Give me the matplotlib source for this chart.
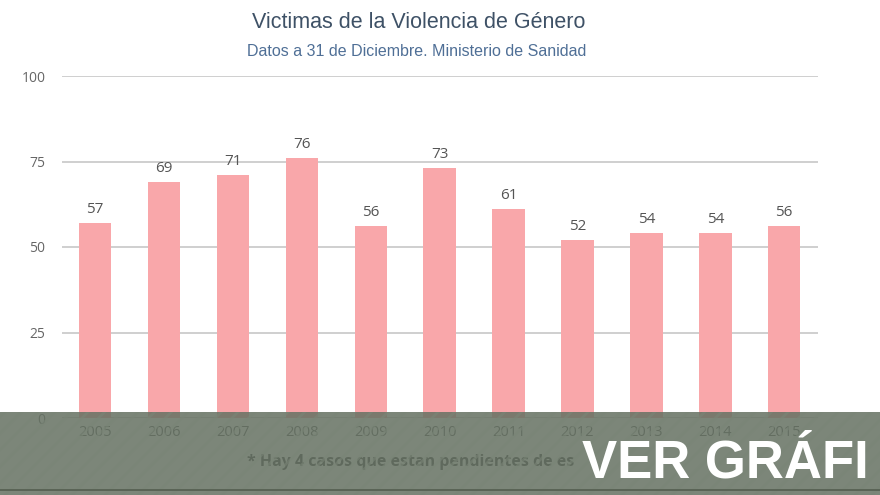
import matplotlib
matplotlib.use("Agg")
import matplotlib.pyplot as plt
from matplotlib.patches import Rectangle

years = ["2005", "2006", "2007", "2008", "2009", "2010", "2011", "2012", "2013", "2014", "2015"]
values = [57, 69, 71, 76, 56, 73, 61, 52, 54, 54, 56]
yticks = [0, 25, 50, 75, 100]

title = "Victimas de la Violencia de Género"
subtitle = "Datos a 31 de Diciembre. Ministerio de Sanidad"
footnote = "* Hay 4 casos que estan pendientes de es"
banner_text = "VER GRÁFI"

plt.rcParams['font.family'] = ['Liberation Sans', 'DejaVu Sans']
plt.rcParams['hatch.linewidth'] = 2.0

fig = plt.figure(figsize=(8.8, 4.95), dpi=100)
fig.patch.set_facecolor('white')
ax = fig.add_axes([62/880, (495-418)/495, (818-62)/880, (418-76)/495])

x = list(range(len(years)))
ax.bar(x, values, width=0.47, color='#f9a7aa', zorder=2)
for xi, v in zip(x, values):
    ax.text(xi, v + 1.8, str(v), ha='center', va='bottom', fontsize=11,
            color='#555555', family=['Open Sans', 'DejaVu Sans'])

ax.set_xlim(-0.48, 10.49)
ax.set_ylim(0, 100)
ax.set_yticks(yticks)
ax.set_yticklabels([str(t) for t in yticks], fontsize=10, color='#666666',
                   family=['Open Sans', 'DejaVu Sans'])
ax.set_xticks(x)
ax.set_xticklabels(years, fontsize=10.5, color='#555555', family=['Open Sans', 'DejaVu Sans'])
ax.tick_params(axis='both', length=0)
ax.tick_params(axis='y', pad=12)
ax.tick_params(axis='x', pad=5)
ax.yaxis.grid(True, color='#cccccc', linewidth=1.3, zorder=0)
ax.set_axisbelow(True)
for s in ax.spines.values():
    s.set_visible(False)

fig.text(419/880, 1 - 22/495, title, ha='center', va='center', fontsize=15.5, color='#3e5166')
fig.text(417/880, 1 - 52/495, subtitle, ha='center', va='center', fontsize=11.5, color='#4f6f96')

fig.text(247/880, 1 - 462/495, footnote, ha='left', va='center', fontsize=11.5,
         color='#3a3a3a', fontweight='bold', family=['Open Sans', 'DejaVu Sans'])

# semi-transparent striped banner overlay
banner = Rectangle((0, 0), 1, (495-412)/495, transform=fig.transFigure,
                   facecolor='#667263', alpha=0.86, edgecolor='none', zorder=10)
fig.patches.append(banner)
stripes = Rectangle((0, 0), 1, (495-412)/495, transform=fig.transFigure,
                    facecolor='none', edgecolor='#7a8577', hatch='//', linewidth=0,
                    alpha=0.6, zorder=11)
fig.patches.append(stripes)
line = Rectangle((0, 4/495), 1, 2/495, transform=fig.transFigure,
                 facecolor='#5a6456', edgecolor='none', zorder=12)
fig.patches.append(line)

fig.text(582/880, 1 - 478/495, banner_text, ha='left', va='baseline', fontsize=38,
         fontweight='bold', color='white', zorder=20)

fig.savefig('out.png', dpi=100)
